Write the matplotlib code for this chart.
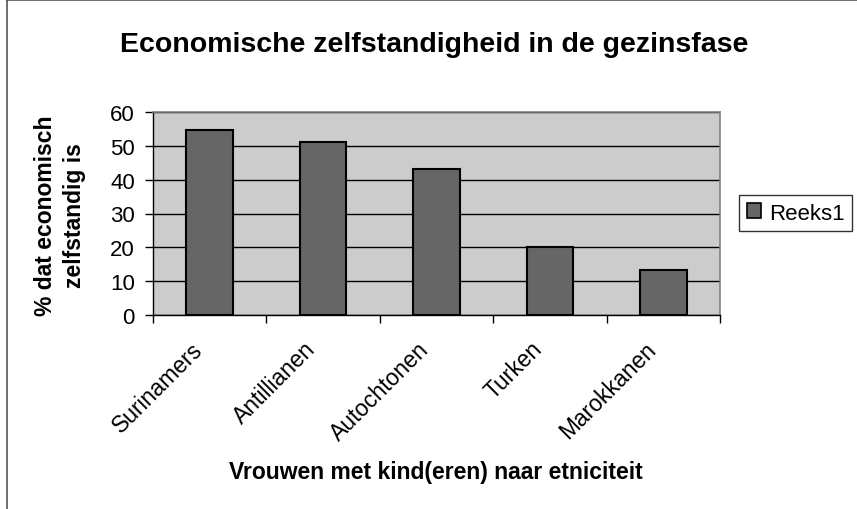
import matplotlib
matplotlib.use("Agg")
import matplotlib.pyplot as plt
from matplotlib.lines import Line2D
from matplotlib.patches import Patch
from matplotlib.transforms import ScaledTranslation
import numpy as np

categories = ["Surinamers", "Antillianen", "Autochtonen", "Turken", "Marokkanen"]
values = [54.7, 51.0, 43.1, 20.0, 13.3]
yticks = [0, 10, 20, 30, 40, 50, 60]
series_name = "Reeks1"

plt.rcParams['font.family'] = ['Liberation Sans', 'DejaVu Sans']

fig = plt.figure(figsize=(8.57, 5.10), dpi=100)
ax = fig.add_axes([153/857, 1-316/510, (720-153)/857, (316-113)/510])
ax.set_facecolor('#cccccc')

x = np.arange(len(categories))
ax.bar(x, values, width=0.41, color='#666666', edgecolor='black', linewidth=1.5, zorder=3, label=series_name)

ax.set_xlim(-0.5, len(categories)-0.5)
ax.set_ylim(0, 60)
ax.set_yticks(yticks)
ax.set_yticklabels([str(v) for v in yticks], fontsize=16)
ax.yaxis.grid(True, color='black', linewidth=1.0, zorder=1)
ax.set_axisbelow(True)

ax.set_xticks(np.arange(-0.5, len(categories), 1.0))
ax.set_xticklabels([])
offset = ScaledTranslation(-19/100, -22/100, fig.dpi_scale_trans)
trans = ax.get_xaxis_transform() + offset
for xi, name in zip(x, categories):
    ax.text(xi, 0, name, transform=trans, rotation=45, ha='right', va='top',
            rotation_mode='anchor', fontsize=16.5, clip_on=False)
ax.tick_params(axis='x', which='major', length=6, width=1, color='black', direction='out')
ax.tick_params(axis='y', length=6, width=1, direction='out', pad=7)

for s in ['top', 'right']:
    ax.spines[s].set_color('#808080')
    ax.spines[s].set_linewidth(1.2)
for s in ['left', 'bottom']:
    ax.spines[s].set_color('black')
    ax.spines[s].set_linewidth(1.0)

fig.text(434/857, 1-45/510, "Economische zelfstandigheid in de gezinsfase",
         ha='center', va='center', fontsize=20.5, fontweight='bold')
fig.text(436/857, 1-473/510, "Vrouwen met kind(eren) naar etniciteit",
         ha='center', va='center', fontsize=16.5, fontweight='bold')
fig.text(60/857, 1-216/510, "% dat economisch\nzelfstandig is",
         ha='center', va='center', rotation=90, fontsize=16.5, fontweight='bold',
         linespacing=1.35)

handle = Patch(facecolor='#666666', edgecolor='black', linewidth=1.2)
leg = fig.legend([handle], [series_name], loc='center left',
                 bbox_to_anchor=(739/857, 1-214/510), fontsize=16, frameon=True,
                 fancybox=False, edgecolor='black', handlelength=0.65, handleheight=0.65,
                 handletextpad=0.35, borderpad=0.35, borderaxespad=0)
leg.get_frame().set_linewidth(1.0)

fig.add_artist(Line2D([7.5/857, 7.5/857], [0, 1-1/510], color='#555555', linewidth=1.2))
fig.add_artist(Line2D([7.5/857, 1], [1-1/510, 1-1/510], color='#555555', linewidth=1.2))

fig.savefig("out.png", dpi=100)
